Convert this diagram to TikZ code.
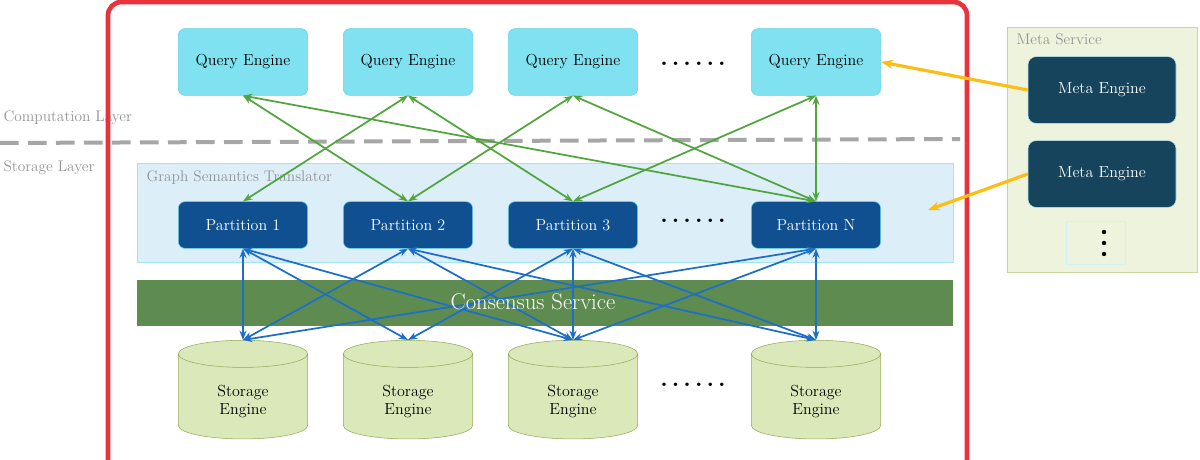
\documentclass[tikz,border=0pt]{standalone}
\usetikzlibrary{shapes.geometric,arrows.meta}
\definecolor{qefill}{RGB}{128,226,240}
\definecolor{qedraw}{RGB}{100,210,230}
\definecolor{ptfill}{RGB}{16,80,145}
\definecolor{gstfill}{RGB}{220,238,248}
\definecolor{csfill}{RGB}{94,140,80}
\definecolor{sefill}{RGB}{218,232,186}
\definecolor{sedraw}{RGB}{150,170,90}
\definecolor{mefill}{RGB}{22,68,92}
\definecolor{msfill}{RGB}{238,243,222}
\definecolor{msdraw}{RGB}{200,214,160}
\definecolor{garr}{RGB}{80,165,60}
\definecolor{barr}{RGB}{30,110,200}
\definecolor{yarr}{RGB}{250,190,20}
\definecolor{frame}{RGB}{232,50,60}
\begin{document}
\begin{tikzpicture}[x=0.75pt,y=-0.75pt,
 qe/.style={draw=qedraw,fill=qefill,rounded corners=5pt,minimum width=97pt,minimum height=50pt,font=\fontsize{12}{14}\selectfont},
 pt/.style={draw=qedraw,fill=ptfill,text=white,rounded corners=5pt,minimum width=97pt,minimum height=35pt,font=\fontsize{12}{14}\selectfont},
 se/.style={cylinder,shape border rotate=90,aspect=0.45,draw=sedraw,fill=sefill,minimum width=97pt,minimum height=74pt,align=center,font=\fontsize{12}{14}\selectfont},
 me/.style={draw=qedraw!50,fill=mefill,text=white,rounded corners=6pt,minimum width=111pt,minimum height=50pt,font=\fontsize{12}{14}\selectfont},
 ga/.style={garr,line width=1.3pt,{Stealth[length=7pt]}-{Stealth[length=7pt]}},
 ba/.style={barr,line width=1.3pt,{Stealth[length=7pt]}-{Stealth[length=7pt]}},
 ya/.style={yarr,line width=2.4pt,-{Stealth[length=9pt]}},
 lbl/.style={text=gray!85,font=\fontsize{11.5}{13}\selectfont,anchor=west,inner sep=1pt},
 dots/.style={font=\bfseries\fontsize{18}{18}\selectfont}]
\useasboundingbox (0,0) rectangle (1200,460);
\fill[white] (0,0) rectangle (1200,460);
\node[lbl] (cl) at (2,118) {Computation Layer};
\node[lbl] (sl) at (2,168) {Storage Layer};
\draw[gray!70,line width=3pt,dash pattern=on 14pt off 7pt] (0,143) -- (960,139);
\draw[qedraw!60,fill=gstfill] (137,163) rectangle (953,262);
\node[lbl] (gst) at (145,178) {Graph Semantics Translator};
\fill[csfill] (137,280) rectangle (953,326);
\foreach \i/\x in {1/243,2/408,3/573,4/816}{
 \node[qe] (q\i) at (\x,62) {Query Engine};
 \node[se] (s\i) at (\x,399) {\\[-2pt]Storage\\Engine};
}
\node[pt] (p1) at (243,225) {Partition 1};
\node[pt] (p2) at (408,225) {Partition 2};
\node[pt] (p3) at (573,225) {Partition 3};
\node[pt] (p4) at (816,225) {Partition N};
\node[dots] (d1) at (693,64) {.\,.\,.\,.\,.\,.};
\node[dots] (d2) at (693,221) {.\,.\,.\,.\,.\,.};
\node[dots] (d3) at (693,385) {.\,.\,.\,.\,.\,.};
\foreach \a/\b in {1/2,1/4,2/1,2/3,3/2,3/4,4/3,4/4}
 \draw[ga] (q\a.south) -- (p\b.north);
\foreach \a/\b in {1/1,1/2,1/3,2/1,2/3,2/4,3/2,3/3,3/4,4/1,4/3,4/4}
 \draw[ba] (p\a.south) -- (s\b.north);
\node[text=white,font=\fontsize{17}{19}\selectfont] (cs) at (533,302) {Consensus Service};
\draw[frame,line width=3.5pt,rounded corners=10pt] (108,475) -- (108,2) -- (967,2) -- (967,475);
\draw[msdraw,fill=msfill] (1007,27) rectangle (1197,272);
\node[lbl] (ms) at (1015,39) {Meta Service};
\node[me] (m1) at (1102,90) {Meta Engine};
\node[me] (m2) at (1102,174) {Meta Engine};
\node[draw=qedraw!30,minimum width=44pt,minimum height=32pt,inner sep=0pt] (m3) at (1096,243) {};
\foreach \yy in {232,243,254} \fill (1104,\yy) circle (2.2);
\draw[ya] (m1.west) -- (q4.east);
\draw[ya] (m2.west) -- (928,210);
\end{tikzpicture}
\end{document}
